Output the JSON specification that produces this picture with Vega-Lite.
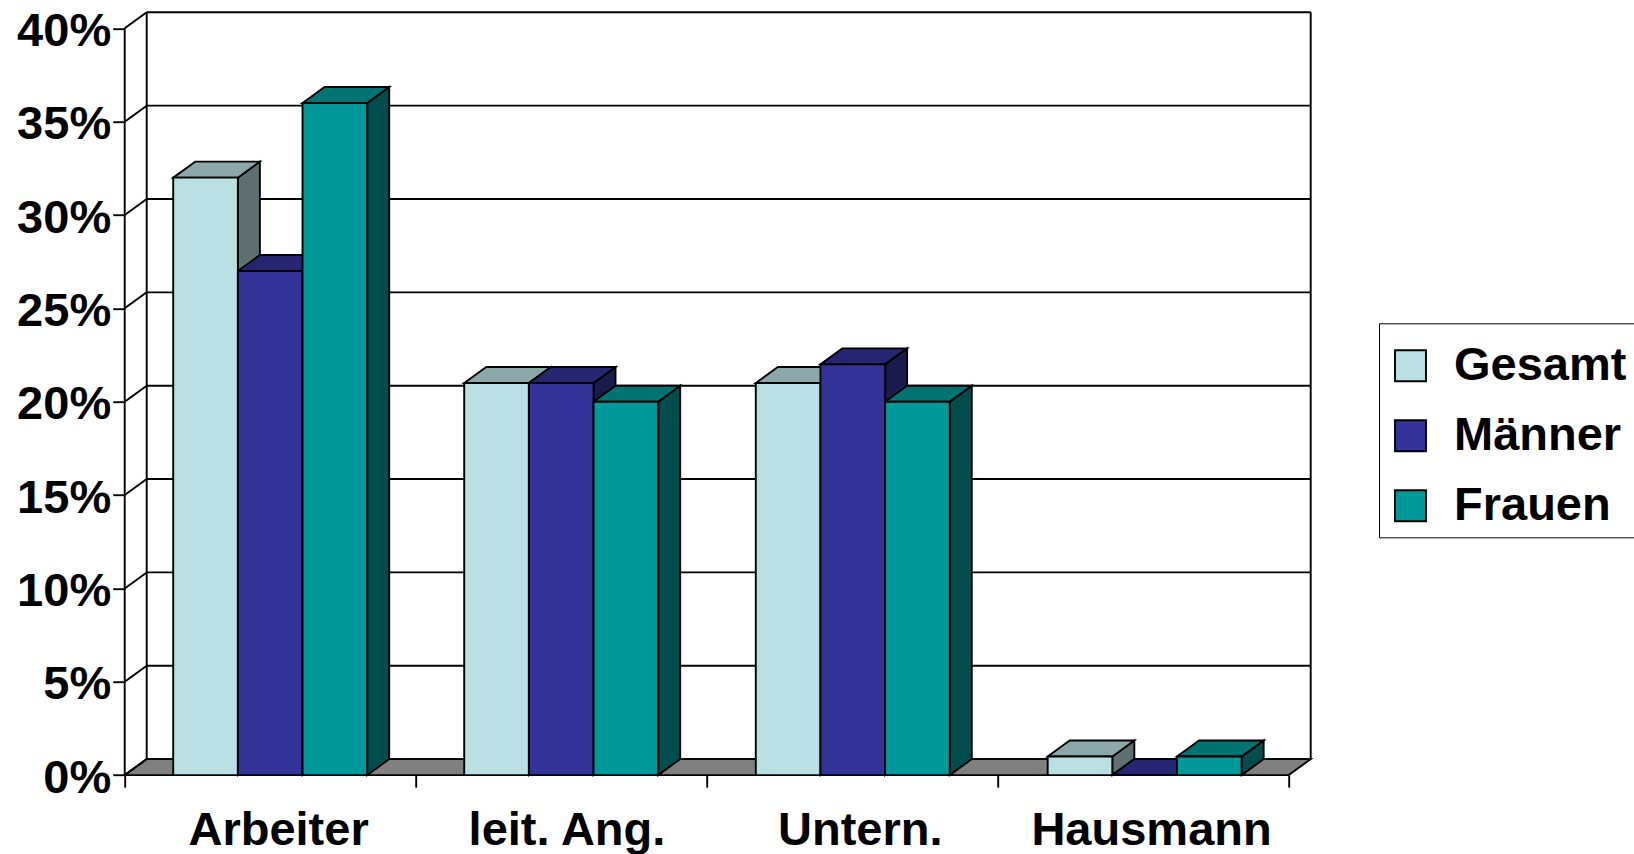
{"$schema":"https://vega.github.io/schema/vega-lite/v6.json","width":1186.5,"height":762.4,"padding":{"left":124.7,"top":12.7,"right":322.8,"bottom":78.9},"autosize":{"type":"none"},"background":"white","data":{"values":[{"cat":"Arbeiter","series":"Gesamt","value":32},{"cat":"Arbeiter","series":"Männer","value":27},{"cat":"Arbeiter","series":"Frauen","value":36},{"cat":"leit. Ang.","series":"Gesamt","value":21},{"cat":"leit. Ang.","series":"Männer","value":21},{"cat":"leit. Ang.","series":"Frauen","value":20},{"cat":"Untern.","series":"Gesamt","value":21},{"cat":"Untern.","series":"Männer","value":22},{"cat":"Untern.","series":"Frauen","value":20},{"cat":"Hausmann","series":"Gesamt","value":1},{"cat":"Hausmann","series":"Männer","value":0},{"cat":"Hausmann","series":"Frauen","value":1}]},"transform":[{"calculate":"[0,1,2.002,3.005][indexof(['Arbeiter','leit. Ang.','Untern.','Hausmann'],datum.cat)]+0.1667+0.2222*indexof(['Gesamt','Männer','Frauen'],datum.series)","as":"xl"},{"calculate":"datum.xl+0.2222","as":"xr"},{"calculate":"[0,1]","as":"k"},{"flatten":["k"]},{"calculate":"datum.xr+datum.k*0.0756","as":"sx"},{"calculate":"datum.value+datum.k*0.857","as":"sy"},{"calculate":"datum.k*0.857","as":"sb"},{"calculate":"datum.xl+datum.k*0.0756","as":"tx"},{"calculate":"datum.xr+datum.k*0.0756","as":"tx2"}],"layer":[{"data":{"values":[{"k":0},{"k":1}]},"transform":[{"calculate":"datum.k*0.857","as":"fy"},{"calculate":"datum.k*0.0756","as":"fx"},{"calculate":"4+datum.k*0.0756","as":"fx2"}],"mark":{"type":"area","orient":"horizontal","fill":"#808080","stroke":"black","strokeWidth":1.9},"encoding":{"y":{"field":"fy","type":"quantitative","scale":{"domain":[0,40.836],"nice":false,"zero":false},"axis":{"title":null,"domain":false,"grid":false,"values":[0,5,10,15,20,25,30,35,40],"labelExpr":"datum.value+'%'","labelFont":"Liberation Sans","labelFontWeight":"bold","labelFontSize":47,"labelColor":"black","labelOffset":3,"tickColor":"black","tickSize":12,"tickWidth":1.9,"labelPadding":2}},"x":{"field":"fx","type":"quantitative","scale":{"domain":[0,4.0773],"nice":false,"zero":false},"axis":{"title":null,"domain":false,"grid":false,"values":[0,0.527,1,1.518,2,2.526,3,3.527,4],"labelExpr":"datum.value==0.527?'Arbeiter':datum.value==1.518?'leit. Ang.':datum.value==2.526?'Untern.':datum.value==3.527?'Hausmann':''","labelFont":"Liberation Sans","labelFontWeight":"bold","labelFontSize":47,"labelColor":"black","labelLimit":600,"labelOverlap":false,"labelFlush":false,"labelBound":false,"tickColor":"black","tickSize":12,"tickWidth":1.9,"labelPadding":20,"tickOpacity":{"condition":{"test":"datum.value%1==0","value":1},"value":0}}},"x2":{"field":"fx2"}}},{"data":{"values":[{"v":0},{"v":5},{"v":10},{"v":15},{"v":20},{"v":25},{"v":30},{"v":35},{"v":40}]},"transform":[{"calculate":"datum.v+0.857","as":"bv"}],"layer":[{"mark":{"type":"rule","color":"black","strokeWidth":1.9},"encoding":{"x":{"datum":0.0756,"type":"quantitative"},"x2":{"datum":4.0756},"y":{"field":"bv","type":"quantitative"}}},{"mark":{"type":"rule","color":"black","strokeWidth":1.9},"encoding":{"x":{"datum":0,"type":"quantitative"},"x2":{"datum":0.0756},"y":{"field":"v","type":"quantitative"},"y2":{"field":"bv"}}}]},{"data":{"values":[{"w":0,"a":0,"b":40},{"w":0.0756,"a":0.857,"b":40.857},{"w":4.0756,"a":0.857,"b":40.857}]},"mark":{"type":"rule","color":"black","strokeWidth":1.9},"encoding":{"x":{"field":"w","type":"quantitative"},"y":{"field":"a","type":"quantitative"},"y2":{"field":"b"}}},{"mark":{"type":"area","stroke":"black","strokeWidth":1.9},"encoding":{"x":{"field":"sx","type":"quantitative"},"y":{"field":"sy","type":"quantitative"},"y2":{"field":"sb"},"detail":{"field":"cat"},"fill":{"field":"series","type":"nominal","legend":null,"scale":{"domain":["Gesamt","Männer","Frauen"],"range":["#5E7072","#1A1A4D","#004D4D"]}}}},{"mark":{"type":"area","orient":"horizontal","stroke":"black","strokeWidth":1.9},"encoding":{"y":{"field":"sy","type":"quantitative"},"x":{"field":"tx","type":"quantitative"},"x2":{"field":"tx2"},"detail":{"field":"cat"},"fill":{"field":"series","type":"nominal","legend":null,"scale":{"domain":["Gesamt","Männer","Frauen"],"range":["#8CA8AA","#262673","#007373"]}}}},{"transform":[{"filter":"datum.k==0"}],"mark":{"type":"bar","stroke":"black","strokeWidth":1.9},"encoding":{"x":{"field":"xl","type":"quantitative"},"x2":{"field":"xr"},"y":{"field":"value","type":"quantitative"},"y2":{"datum":0},"fill":{"field":"series","type":"nominal","scale":{"domain":["Gesamt","Männer","Frauen"],"range":["#BBE0E3","#333399","#009999"]},"legend":{"orient":"none","legendX":1254.3,"legendY":310.6,"title":" ","titleFontSize":1,"titlePadding":10,"padding":8,"fillColor":"white","strokeColor":"black","symbolType":"square","symbolSize":961,"symbolStrokeColor":"black","symbolStrokeWidth":1.9,"symbolOffset":0,"labelOffset":20,"labelFont":"Liberation Sans","labelFontWeight":"bold","labelFontSize":47,"labelColor":"black","labelLimit":400,"rowPadding":22}}}}],"resolve":{"scale":{"fill":"independent"}},"config":{"view":{"stroke":null}}}
